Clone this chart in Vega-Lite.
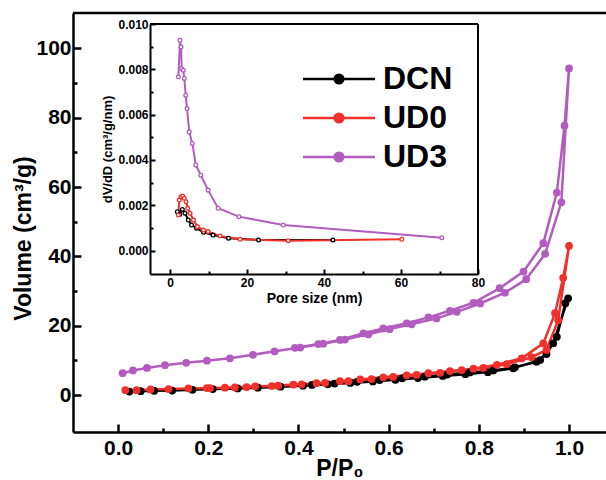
{
  "$schema": "https://vega.github.io/schema/vega-lite/v6.json",
  "width": 533,
  "height": 419,
  "autosize": "none",
  "padding": {"left": 73, "top": 13, "right": 0, "bottom": 48},
  "config": {"view": {"stroke": null}, "font": "Liberation Sans"},
  "datasets": {
    "iso": [
      {"s":"DCN","i":1,"x":0.025,"y":1.0},{"s":"DCN","i":2,"x":0.05,"y":1.1},{"s":"DCN","i":3,"x":0.08,"y":1.2},{"s":"DCN","i":4,"x":0.12,"y":1.3},{"s":"DCN","i":5,"x":0.165,"y":1.5},{"s":"DCN","i":6,"x":0.21,"y":1.7},{"s":"DCN","i":7,"x":0.265,"y":1.9},{"s":"DCN","i":8,"x":0.31,"y":2.1},{"s":"DCN","i":9,"x":0.36,"y":2.4},{"s":"DCN","i":10,"x":0.41,"y":2.7},{"s":"DCN","i":11,"x":0.465,"y":3.1},{"s":"DCN","i":12,"x":0.515,"y":3.5},{"s":"DCN","i":13,"x":0.565,"y":3.9},{"s":"DCN","i":14,"x":0.615,"y":4.4},{"s":"DCN","i":15,"x":0.665,"y":4.9},{"s":"DCN","i":16,"x":0.72,"y":5.5},{"s":"DCN","i":17,"x":0.77,"y":6.0},{"s":"DCN","i":18,"x":0.82,"y":6.6},{"s":"DCN","i":19,"x":0.876,"y":7.7},{"s":"DCN","i":20,"x":0.936,"y":10.1},{"s":"DCN","i":21,"x":0.965,"y":14.9},{"s":"DCN","i":22,"x":0.998,"y":27.9},{"s":"DCN","i":23,"x":0.992,"y":26.5},{"s":"DCN","i":24,"x":0.973,"y":16.8},{"s":"DCN","i":25,"x":0.95,"y":11.8},{"s":"DCN","i":26,"x":0.928,"y":9.6},{"s":"DCN","i":27,"x":0.88,"y":8.0},{"s":"DCN","i":28,"x":0.832,"y":7.1},{"s":"DCN","i":29,"x":0.78,"y":6.5},{"s":"DCN","i":30,"x":0.73,"y":5.9},{"s":"DCN","i":31,"x":0.68,"y":5.3},{"s":"DCN","i":32,"x":0.63,"y":4.8},{"s":"DCN","i":33,"x":0.58,"y":4.3},{"s":"DCN","i":34,"x":0.53,"y":3.8},{"s":"DCN","i":35,"x":0.48,"y":3.3},{"s":"DCN","i":36,"x":0.43,"y":2.9},
      {"s":"UD0","i":1,"x":0.016,"y":1.4},{"s":"UD0","i":2,"x":0.041,"y":1.4},{"s":"UD0","i":3,"x":0.072,"y":1.6},{"s":"UD0","i":4,"x":0.112,"y":1.7},{"s":"UD0","i":5,"x":0.156,"y":1.9},{"s":"UD0","i":6,"x":0.204,"y":2.0},{"s":"UD0","i":7,"x":0.259,"y":2.2},{"s":"UD0","i":8,"x":0.304,"y":2.5},{"s":"UD0","i":9,"x":0.355,"y":2.7},{"s":"UD0","i":10,"x":0.407,"y":3.1},{"s":"UD0","i":11,"x":0.459,"y":3.5},{"s":"UD0","i":12,"x":0.511,"y":4.0},{"s":"UD0","i":13,"x":0.562,"y":4.6},{"s":"UD0","i":14,"x":0.61,"y":5.2},{"s":"UD0","i":15,"x":0.662,"y":5.8},{"s":"UD0","i":16,"x":0.714,"y":6.4},{"s":"UD0","i":17,"x":0.762,"y":7.2},{"s":"UD0","i":18,"x":0.81,"y":7.8},{"s":"UD0","i":19,"x":0.862,"y":8.9},{"s":"UD0","i":20,"x":0.917,"y":10.9},{"s":"UD0","i":21,"x":0.95,"y":13.0},{"s":"UD0","i":22,"x":0.976,"y":21.6},{"s":"UD0","i":23,"x":1.0,"y":43.0},{"s":"UD0","i":24,"x":0.987,"y":33.8},{"s":"UD0","i":25,"x":0.969,"y":23.6},{"s":"UD0","i":26,"x":0.943,"y":14.9},{"s":"UD0","i":27,"x":0.895,"y":10.6},{"s":"UD0","i":28,"x":0.84,"y":8.7},{"s":"UD0","i":29,"x":0.788,"y":7.6},{"s":"UD0","i":30,"x":0.736,"y":6.9},{"s":"UD0","i":31,"x":0.688,"y":6.3},{"s":"UD0","i":32,"x":0.64,"y":5.7},{"s":"UD0","i":33,"x":0.588,"y":5.1},{"s":"UD0","i":34,"x":0.537,"y":4.5},{"s":"UD0","i":35,"x":0.492,"y":4.0},{"s":"UD0","i":36,"x":0.44,"y":3.4},{"s":"UD0","i":37,"x":0.389,"y":3.0},{"s":"UD0","i":38,"x":0.341,"y":2.6},{"s":"UD0","i":39,"x":0.285,"y":2.3},{"s":"UD0","i":40,"x":0.237,"y":2.1},{"s":"UD0","i":41,"x":0.197,"y":2.0},
      {"s":"UD3","i":1,"x":0.01,"y":6.3},{"s":"UD3","i":2,"x":0.033,"y":7.1},{"s":"UD3","i":3,"x":0.064,"y":7.8},{"s":"UD3","i":4,"x":0.104,"y":8.6},{"s":"UD3","i":5,"x":0.151,"y":9.3},{"s":"UD3","i":6,"x":0.197,"y":9.9},{"s":"UD3","i":7,"x":0.248,"y":10.6},{"s":"UD3","i":8,"x":0.299,"y":11.6},{"s":"UD3","i":9,"x":0.347,"y":12.6},{"s":"UD3","i":10,"x":0.404,"y":13.7},{"s":"UD3","i":11,"x":0.455,"y":14.8},{"s":"UD3","i":12,"x":0.503,"y":16.0},{"s":"UD3","i":13,"x":0.555,"y":17.5},{"s":"UD3","i":14,"x":0.602,"y":19.0},{"s":"UD3","i":15,"x":0.651,"y":20.4},{"s":"UD3","i":16,"x":0.706,"y":22.1},{"s":"UD3","i":17,"x":0.751,"y":24.0},{"s":"UD3","i":18,"x":0.803,"y":26.4},{"s":"UD3","i":19,"x":0.858,"y":29.5},{"s":"UD3","i":20,"x":0.905,"y":33.4},{"s":"UD3","i":21,"x":0.947,"y":40.7},{"s":"UD3","i":22,"x":0.983,"y":55.6},{"s":"UD3","i":23,"x":1.0,"y":94.2},{"s":"UD3","i":24,"x":0.99,"y":77.7},{"s":"UD3","i":25,"x":0.973,"y":58.4},{"s":"UD3","i":26,"x":0.943,"y":43.8},{"s":"UD3","i":27,"x":0.899,"y":35.6},{"s":"UD3","i":28,"x":0.846,"y":30.8},{"s":"UD3","i":29,"x":0.788,"y":26.6},{"s":"UD3","i":30,"x":0.736,"y":24.3},{"s":"UD3","i":31,"x":0.688,"y":22.4},{"s":"UD3","i":32,"x":0.64,"y":20.7},{"s":"UD3","i":33,"x":0.588,"y":19.2},{"s":"UD3","i":34,"x":0.544,"y":17.8},{"s":"UD3","i":35,"x":0.492,"y":15.9},{"s":"UD3","i":36,"x":0.444,"y":14.7},{"s":"UD3","i":37,"x":0.392,"y":13.6}
    ],
    "psd": [
      {"s":"DCN","x":1.9,"y":0.00172},{"s":"DCN","x":2.5,"y":0.0016},{"s":"DCN","x":3.2,"y":0.00182},{"s":"DCN","x":3.9,"y":0.00165},{"s":"DCN","x":4.75,"y":0.00135},{"s":"DCN","x":5.6,"y":0.00113},{"s":"DCN","x":6.9,"y":0.00099},{"s":"DCN","x":8.7,"y":0.00081},{"s":"DCN","x":11.2,"y":0.00069},{"s":"DCN","x":15.2,"y":0.00055},{"s":"DCN","x":23,"y":0.00047},{"s":"DCN","x":42.3,"y":0.00047},
      {"s":"UD0","x":2.16,"y":0.00157},{"s":"UD0","x":2.4,"y":0.00223},{"s":"UD0","x":2.86,"y":0.00238},{"s":"UD0","x":3.3,"y":0.00241},{"s":"UD0","x":3.7,"y":0.00231},{"s":"UD0","x":4.16,"y":0.00216},{"s":"UD0","x":4.6,"y":0.00187},{"s":"UD0","x":5.2,"y":0.00165},{"s":"UD0","x":6.1,"y":0.00135},{"s":"UD0","x":7.1,"y":0.00106},{"s":"UD0","x":8.7,"y":0.00091},{"s":"UD0","x":9.9,"y":0.00084},{"s":"UD0","x":13,"y":0.00065},{"s":"UD0","x":18.2,"y":0.0005},{"s":"UD0","x":30.7,"y":0.00044},{"s":"UD0","x":60.2,"y":0.0005},
      {"s":"UD3","x":2.16,"y":0.00767},{"s":"UD3","x":2.6,"y":0.00928},{"s":"UD3","x":2.86,"y":0.00899},{"s":"UD3","x":3.04,"y":0.00803},{"s":"UD3","x":3.45,"y":0.00796},{"s":"UD3","x":3.71,"y":0.0076},{"s":"UD3","x":4.08,"y":0.00686},{"s":"UD3","x":4.42,"y":0.00627},{"s":"UD3","x":5.0,"y":0.00524},{"s":"UD3","x":5.8,"y":0.00473},{"s":"UD3","x":6.7,"y":0.00378},{"s":"UD3","x":8.0,"y":0.00333},{"s":"UD3","x":9.9,"y":0.00267},{"s":"UD3","x":12.5,"y":0.00187},{"s":"UD3","x":17.9,"y":0.0015},{"s":"UD3","x":29.4,"y":0.00113},{"s":"UD3","x":70.6,"y":0.00057}
    ]
  },
  "layer": [
    {
      "layer": [
        {
          "data": {"name": "iso"},
          "encoding": {
            "x": {"field": "x", "type": "quantitative",
              "scale": {"domain": [-0.1, 1.082], "nice": false, "zero": false},
              "axis": {"orient": "bottom", "grid": false, "values": [0,0.1,0.2,0.3,0.4,0.5,0.6,0.7,0.8,0.9,1.0],
                "labelExpr": "round(datum.value*10)%2==0 ? format(datum.value,'.1f') : ''",
                "tickSize": {"condition": {"test": "round(datum.value*10)%2==0", "value": -8}, "value": -4},
                "tickWidth": 2.5, "tickColor": "#000", "domainWidth": 2.5, "domainColor": "#000",
                "labelFontSize": 21, "labelFontWeight": "bold", "labelColor": "#000", "labelPadding": 13,
                "labelFlush": false, "labelOverlap": false, "labelBound": false,
                "title": "P/P₀", "titleFontSize": 23, "titleFontWeight": "bold", "titleColor": "#000", "titlePadding": -5}},
            "y": {"field": "y", "type": "quantitative",
              "scale": {"domain": [-10.67, 110.2], "nice": false, "zero": false},
              "axis": {"orient": "left", "grid": false, "values": [0,10,20,30,40,50,60,70,80,90,100],
                "labelExpr": "round(datum.value/10)%2==0 ? datum.label : ''",
                "tickSize": {"condition": {"test": "round(datum.value/10)%2==0", "value": -8}, "value": -4},
                "tickWidth": 2.5, "tickColor": "#000", "domainWidth": 2.5, "domainColor": "#000",
                "labelFontSize": 21, "labelFontWeight": "bold", "labelColor": "#000", "labelPadding": 10,
                "labelFlush": false, "labelOverlap": false, "labelBound": false,
                "title": "Volume (cm³/g)", "titleFontSize": 23, "titleFontWeight": "bold", "titleColor": "#000", "titlePadding": 0, "titleY": 225}},
            "color": {"field": "s", "type": "nominal",
              "scale": {"domain": ["DCN", "UD0", "UD3"], "range": ["#000000", "#f0302a", "#b35cbf"]},
              "legend": {"orient": "none", "legendX": 250, "legendY": 50, "padding": 0, "title": null,
                "symbolType": "M-4,0H4M-0.48,0A0.48,0.48,0,1,1,0.48,0A0.48,0.48,0,1,1,-0.48,0Z",
                "symbolSize": 324, "symbolStrokeWidth": 2.5,
                "labelFontSize": 32, "labelFontWeight": "bold", "labelColor": "#000", "labelOffset": 28, "rowPadding": 7,
                "encode": {"symbols": {"update": {"fill": {"scale": "color", "field": "value"}, "stroke": {"scale": "color", "field": "value"}, "opacity": {"value": 1}}}}}}
          },
          "layer": [
            {"mark": {"type": "line", "strokeWidth": 2.5}, "encoding": {"order": {"field": "i", "type": "quantitative"}}},
            {"mark": {"type": "point", "filled": true, "size": 60, "opacity": 1}}
          ]
        },
        {
          "data": {"values": [{}]},
          "mark": {"type": "rule", "strokeWidth": 2.5, "color": "#000"},
          "encoding": {"y": {"datum": 110.2}}
        }
      ]
    },
    {
      "layer": [
        {
          "data": {"name": "psd"},
          "encoding": {
            "x": {"field": "x", "type": "quantitative",
              "scale": {"domain": [-5.2, 80], "range": [77, 405], "nice": false, "zero": false},
              "axis": {"orient": "bottom", "offset": -158, "grid": false, "values": [0,10,20,30,40,50,60,70,80],
                "labelExpr": "round(datum.value/10)%2==0 ? datum.label : ''",
                "tickSize": {"condition": {"test": "round(datum.value/10)%2==0", "value": -5}, "value": -3},
                "tickWidth": 2, "tickColor": "#000", "domainWidth": 2, "domainColor": "#000",
                "labelFontSize": 12, "labelFontWeight": "bold", "labelColor": "#000", "labelPadding": 8,
                "labelFlush": false, "labelOverlap": false, "labelBound": false,
                "title": "Pore size (nm)", "titleFontSize": 14, "titleFontWeight": "bold", "titleColor": "#000", "titlePadding": 1}},
            "y": {"field": "y", "type": "quantitative",
              "scale": {"domain": [-0.00103, 0.01], "range": [261, 11], "nice": false, "zero": false},
              "axis": {"orient": "left", "offset": -77, "grid": false, "values": [0,0.001,0.002,0.003,0.004,0.005,0.006,0.007,0.008,0.009,0.01],
                "labelExpr": "round(datum.value*1000)%2==0 ? format(datum.value,'.3f') : ''",
                "tickSize": {"condition": {"test": "round(datum.value*1000)%2==0", "value": -5}, "value": -3},
                "tickWidth": 2, "tickColor": "#000", "domainWidth": 2, "domainColor": "#000",
                "labelFontSize": 12, "labelFontWeight": "bold", "labelColor": "#000", "labelPadding": 7,
                "labelFlush": false, "labelOverlap": false, "labelBound": false,
                "title": "dV/dD (cm³/g/nm)", "titleFontSize": 13, "titleFontWeight": "bold", "titleColor": "#000", "titlePadding": 3}},
            "color": {"field": "s", "type": "nominal", "legend": null}
          },
          "layer": [
            {"mark": {"type": "line", "strokeWidth": 2}},
            {"mark": {"type": "point", "filled": false, "fill": "#ffffff", "fillOpacity": 1, "size": 14, "strokeWidth": 1.3, "opacity": 1}}
          ]
        },
        {
          "data": {"values": [{}]},
          "mark": {"type": "rule", "strokeWidth": 2, "color": "#000"},
          "encoding": {"y": {"datum": 0.01}, "x": {"datum": -5.2}, "x2": {"datum": 80}}
        },
        {
          "data": {"values": [{}]},
          "mark": {"type": "rule", "strokeWidth": 2, "color": "#000"},
          "encoding": {"x": {"datum": 80}, "y": {"datum": -0.00103}, "y2": {"datum": 0.01}}
        }
      ]
    }
  ],
  "resolve": {"scale": {"x": "independent", "y": "independent"}, "axis": {"x": "independent", "y": "independent"}}
}
